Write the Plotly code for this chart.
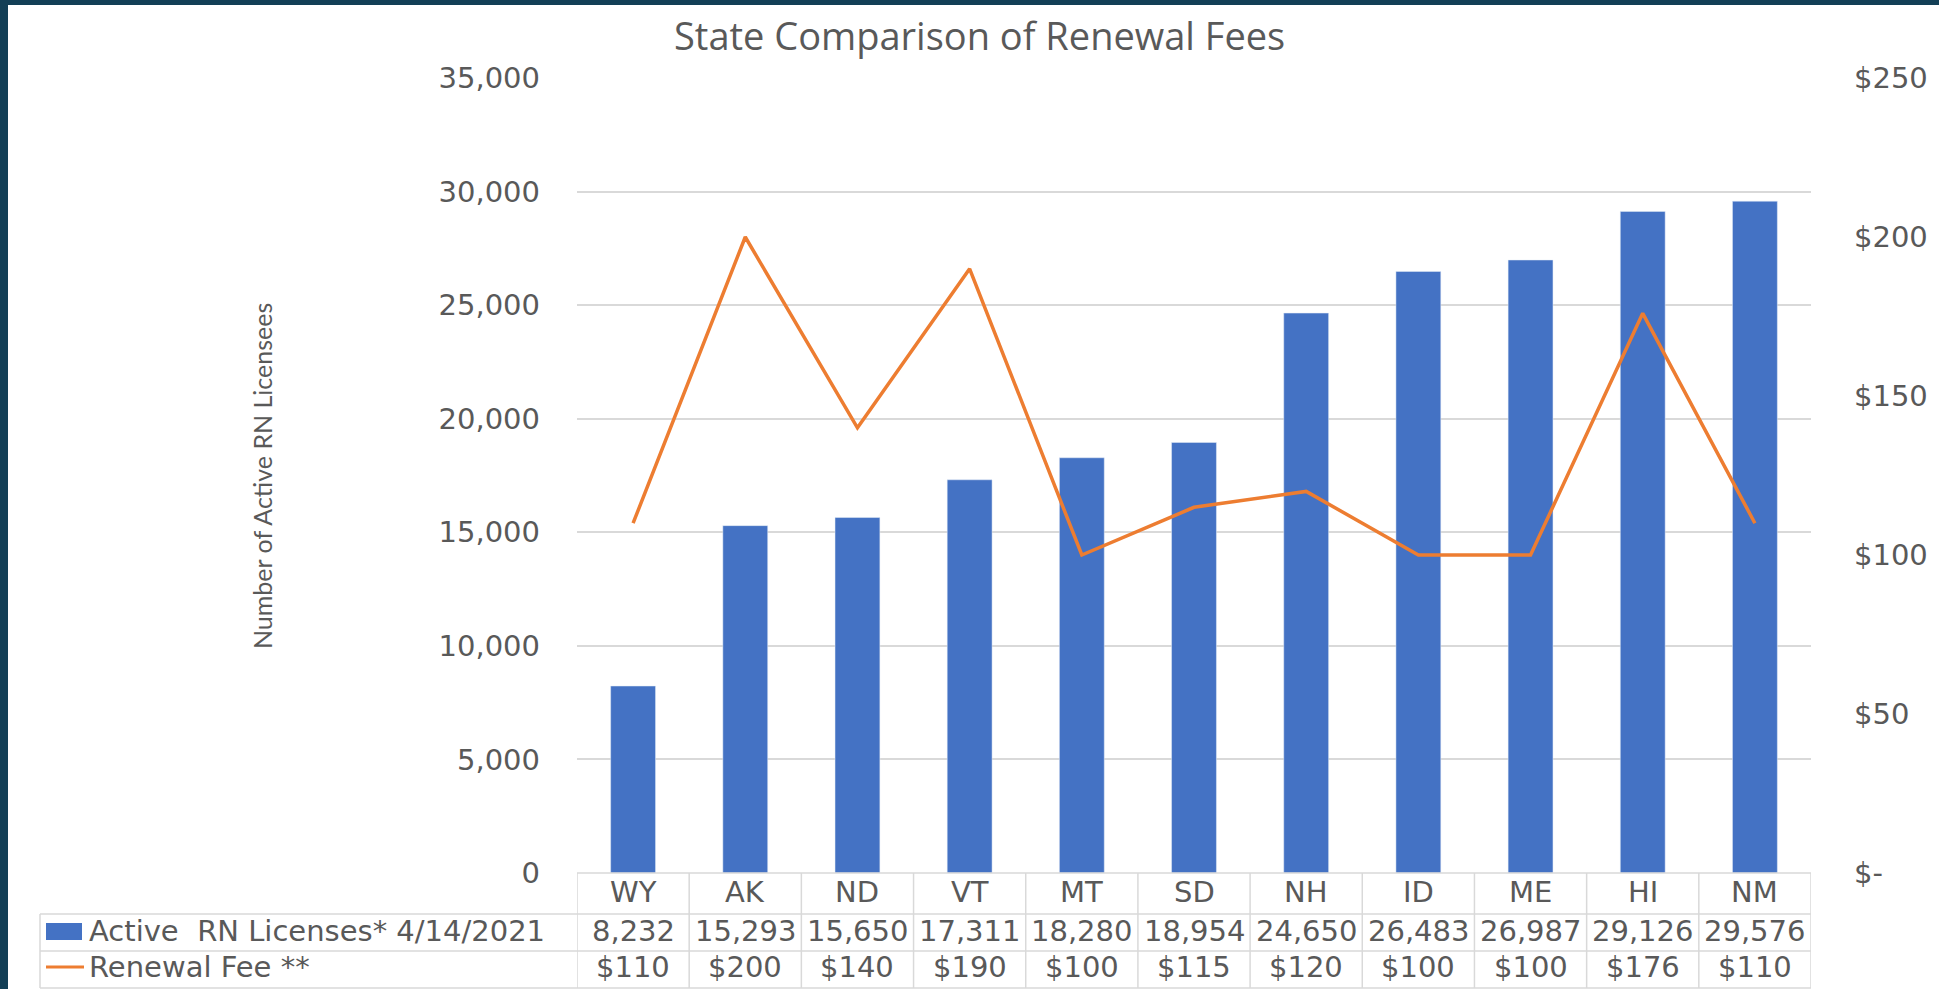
import plotly.graph_objects as go

# ---------------- data ----------------
states = ["WY", "AK", "ND", "VT", "MT", "SD", "NH", "ID", "ME", "HI", "NM"]
licenses = [8232, 15293, 15650, 17311, 18280, 18954, 24650, 26483, 26987, 29126, 29576]
fees = [110, 200, 140, 190, 100, 115, 120, 100, 100, 176, 110]
left_tickvals = [0, 5000, 10000, 15000, 20000, 25000, 30000, 35000]
right_tickvals = [0, 50, 100, 150, 200, 250]
right_ticktext = ["$-", "$50", "$100", "$150", "$200", "$250"]
series_names = ["Active\u00a0 RN Licenses* 4/14/2021", "Renewal Fee **"]
title_text = "State Comparison of Renewal Fees"
ytitle_text = "Number of Active RN Licensees"

# ---------------- layout helpers ----------------
W, H = 1939, 989
def px(x):
    return x / W
def py(y):
    return 1 - y / H

BLUE = "#4472C4"
ORANGE = "#ED7D31"
GRID = "#D9D9D9"
TXT = "#595959"
TEAL = "#133F56"
NUMFONT = "DejaVu Sans"
FS = 29

PLOT_L, PLOT_R, PLOT_T, PLOT_B = 577, 1811, 78, 873
TABLE_L = 40
ROW_Y = [873, 914, 951, 988]
ROW_C = [892, 931, 967]

fig = go.Figure()
fig.add_trace(go.Bar(x=states, y=licenses, marker_color=BLUE, name=series_names[0],
                     yaxis="y", showlegend=False))
fig.add_trace(go.Scatter(x=states, y=fees, mode="lines", line=dict(color=ORANGE, width=3.5),
                         name=series_names[1], yaxis="y2", showlegend=False))

shapes = []
# teal frame strips
shapes.append(dict(type="rect", xref="paper", yref="paper", x0=0, x1=px(8), y0=0, y1=1,
                   fillcolor=TEAL, line=dict(width=0), layer="above"))
shapes.append(dict(type="rect", xref="paper", yref="paper", x0=0, x1=1, y0=py(5), y1=1,
                   fillcolor=TEAL, line=dict(width=0), layer="above"))

# table horizontal lines
shapes.append(dict(type="line", xref="paper", yref="paper", x0=px(PLOT_L), x1=px(PLOT_R),
                   y0=py(ROW_Y[0]), y1=py(ROW_Y[0]), line=dict(color=GRID, width=1.5)))
for yy in ROW_Y[1:]:
    shapes.append(dict(type="line", xref="paper", yref="paper", x0=px(TABLE_L), x1=px(PLOT_R),
                       y0=py(yy), y1=py(yy), line=dict(color=GRID, width=1.5)))
# left border of legend column
shapes.append(dict(type="line", xref="paper", yref="paper", x0=px(TABLE_L), x1=px(TABLE_L),
                   y0=py(ROW_Y[1]), y1=py(ROW_Y[3]), line=dict(color=GRID, width=1.5)))
# vertical category borders
for i in range(len(states) + 1):
    shapes.append(dict(type="line", xref="x", yref="paper", x0=i - 0.5, x1=i - 0.5,
                       y0=py(ROW_Y[0]), y1=py(ROW_Y[3]), line=dict(color=GRID, width=1.5)))
# legend keys
shapes.append(dict(type="rect", xref="paper", yref="paper", x0=px(46), x1=px(82),
                   y0=py(940), y1=py(923), fillcolor=BLUE, line=dict(width=0)))
shapes.append(dict(type="line", xref="paper", yref="paper", x0=px(46), x1=px(84),
                   y0=py(967), y1=py(967), line=dict(color=ORANGE, width=3)))

annotations = []
for i, s in enumerate(states):
    annotations.append(dict(x=i, xref="x", y=py(ROW_C[0]), yref="paper", text=s,
                            showarrow=False, font=dict(family=NUMFONT, size=FS, color=TXT),
                            xanchor="center", yanchor="middle"))
    annotations.append(dict(x=i, xref="x", y=py(ROW_C[1]), yref="paper", text=f"{licenses[i]:,}",
                            showarrow=False, font=dict(family=NUMFONT, size=FS, color=TXT),
                            xanchor="center", yanchor="middle"))
    annotations.append(dict(x=i, xref="x", y=py(ROW_C[2]), yref="paper", text=f"${fees[i]}",
                            showarrow=False, font=dict(family=NUMFONT, size=FS, color=TXT),
                            xanchor="center", yanchor="middle"))
for name, yc in zip(series_names, ROW_C[1:]):
    annotations.append(dict(x=px(87), xref="paper", y=py(yc), yref="paper", text=name,
                            showarrow=False, font=dict(family=NUMFONT, size=FS, color=TXT),
                            xanchor="left", yanchor="middle"))
# y axis title
annotations.append(dict(x=px(262), xref="paper", y=py(476), yref="paper", text=ytitle_text,
                        textangle=-90, showarrow=False,
                        font=dict(family="Lato", size=25, color=TXT),
                        xanchor="center", yanchor="middle"))
# chart title
annotations.append(dict(x=px(980), xref="paper", y=py(35), yref="paper", text=title_text,
                        showarrow=False, font=dict(family="Open Sans", size=38, color=TXT),
                        xanchor="center", yanchor="middle"))

fig.update_layout(
    width=W, height=H,
    margin=dict(l=0, r=0, t=0, b=0, autoexpand=False),
    paper_bgcolor="white", plot_bgcolor="white",
    bargap=0.6,
    xaxis=dict(domain=[px(PLOT_L), px(PLOT_R)], type="category", range=[-0.5, 10.5],
               showticklabels=False, showgrid=False, showline=False, zeroline=False,
               anchor="y", automargin=False),
    yaxis=dict(domain=[py(PLOT_B), py(PLOT_T)], range=[0, 35000], tickvals=left_tickvals,
               tickformat=",", showgrid=True, gridcolor=GRID, gridwidth=1.5, zeroline=False,
               showline=False, ticks="", ticklabelstandoff=36, automargin=False,
               tickfont=dict(family=NUMFONT, size=FS, color=TXT)),
    yaxis2=dict(domain=[py(PLOT_B), py(PLOT_T)], range=[0, 250], overlaying="y", side="right",
                anchor="x", tickvals=right_tickvals, ticktext=right_ticktext,
                showgrid=False, zeroline=False, showline=False, ticks="",
                ticklabelstandoff=42, automargin=False,
                tickfont=dict(family=NUMFONT, size=FS, color=TXT)),
    shapes=shapes,
    annotations=annotations,
)

fig.write_html("out.html", config={"displayModeBar": False},
               post_script="document.body.style.margin='0';document.body.style.overflow='hidden';")
